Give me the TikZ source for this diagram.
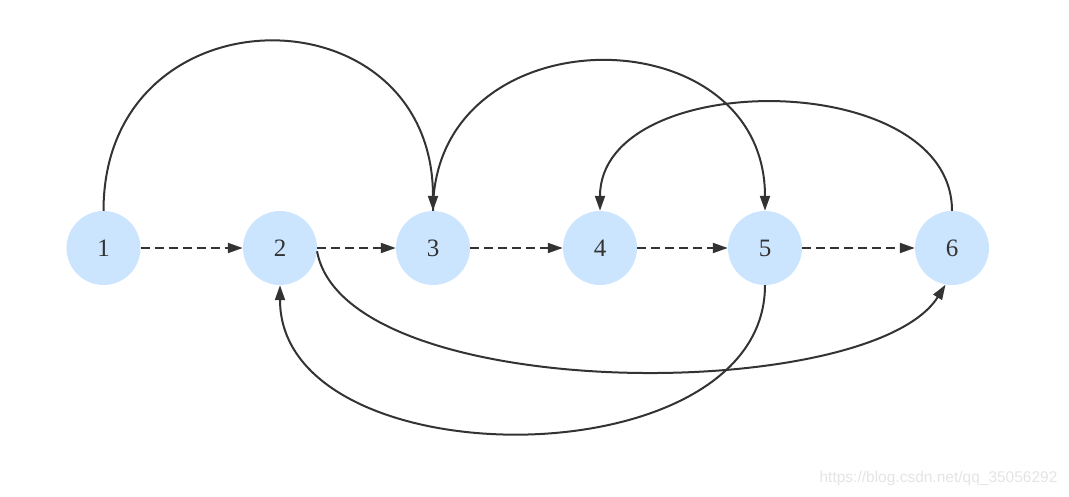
\documentclass[tikz,border=0pt]{standalone}
\usepackage{fontspec}
\setmainfont{Liberation Serif}
\newfontfamily\wmfont{Liberation Sans}
\usetikzlibrary{arrows.meta}
\definecolor{nodefill}{RGB}{204,229,255}
\definecolor{edgecol}{RGB}{51,51,51}
\definecolor{wmcol}{RGB}{228,228,228}
\begin{document}
\begin{tikzpicture}[x=1pt,y=-1pt,
  vert/.style={circle,fill=nodefill,minimum size=74pt,inner sep=0pt,text=edgecol,font=\fontsize{25}{30}\selectfont},
  edge/.style={draw=edgecol,line width=2pt,-{Triangle[length=15pt,width=10pt]}},
  dashedge/.style={edge,dash pattern=on 9pt off 5pt}]
\useasboundingbox (0,0) rectangle (1069,496);
\node[vert] (n1) at (103.5,248) {1};
\node[vert] (n2) at (280,248) {2};
\node[vert] (n3) at (433,248) {3};
\node[vert] (n4) at (600,248) {4};
\node[vert] (n5) at (765,248) {5};
\node[vert] (n6) at (952,248) {6};
\draw[dashedge] (n1) -- (n2);
\draw[dashedge] (n2) -- (n3);
\draw[dashedge] (n3) -- (n4);
\draw[dashedge] (n4) -- (n5);
\draw[dashedge] (n5) -- (n6);
\draw[edge] (n1.north) .. controls (103.5,-14) and (433,-14) .. (n3.north);
\draw[edge] (n3.north) .. controls (433,12) and (765,12) .. (n5.north);
\draw[edge] (n6.north) .. controls (952,67) and (600,67) .. (n4.north);
\draw[edge] (n2.-5) .. controls (345,405) and (870,405) .. (n6.-100);
\draw[edge] (n5.south) .. controls (765,482) and (280,482) .. (n2.south);
\node[font=\wmfont\fontsize{15.5}{18}\selectfont,text=wmcol,anchor=east] (wm) at (1061,478) {https://blog.csdn.net/qq\_35056292};
\end{tikzpicture}
\end{document}
